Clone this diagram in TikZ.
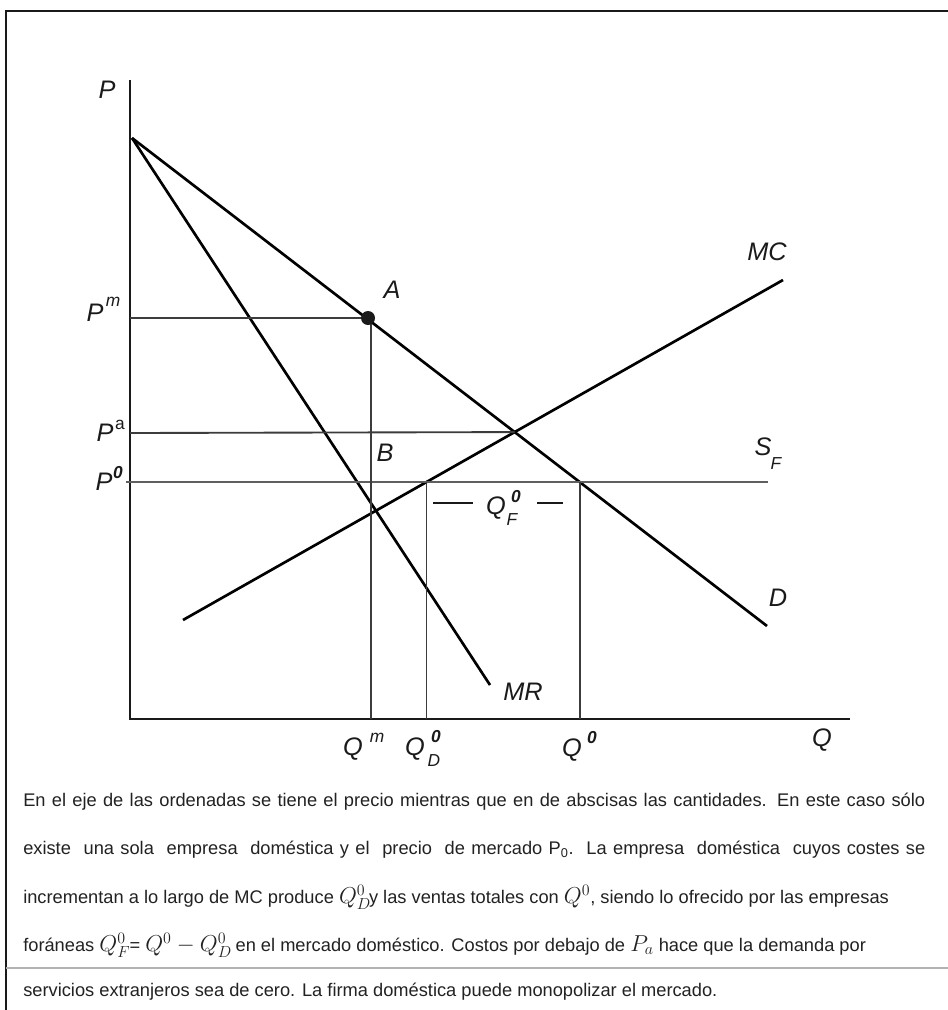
\documentclass[tikz,border=0pt]{standalone}
\usepackage{fontspec}
\setmainfont{Liberation Sans}
\newfontfamily\bodyfont{Liberation Sans}
\definecolor{ink}{HTML}{1A1A1A}
\definecolor{txt}{HTML}{222222}
\newcommand\mq[1]{{\fontsize{16.5}{17}\selectfont$#1$}}
\begin{document}
\begin{tikzpicture}[x=0.75pt,y=-0.75pt,
  frame/.style={line width=1.6pt,draw=ink},
  axis/.style={line width=2pt,draw=ink},
  curve/.style={line width=2pt,draw=black},
  guide/.style={line width=1.4pt,draw=ink!85},
  thinguide/.style={line width=1.1pt,draw=ink!70},
  lbl/.style={inner sep=0pt,font=\fontsize{19}{22}\selectfont\itshape,text=ink},
  sup/.style={inner sep=0pt,font=\fontsize{13}{15}\selectfont\itshape,text=ink},
  supb/.style={inner sep=0pt,font=\fontsize{13}{15}\selectfont\bfseries\itshape,text=ink},
  para/.style={inner sep=0pt,anchor=west,font=\bodyfont\fontsize{13.7}{16}\selectfont,text=txt},
  dot/.style={circle,fill=ink,inner sep=0pt,minimum size=10.5pt}]
\useasboundingbox (0,0) rectangle (948,1010);
\fill[white] (0,0) rectangle (948,1010);
% frame
\coordinate (fr1) at (948,11);
\coordinate (fr2) at (6,11);
\coordinate (fr3) at (6,1010);
\draw[frame] (fr1) -- (fr2) -- (fr3);
\coordinate (sep1) at (6,968);
\coordinate (sep2) at (948,968);
\draw[line width=0.9pt,draw=black!30] (sep1) -- (sep2);
% axes
\coordinate (Ytop) at (130,80);
\coordinate (O) at (130,719);
\coordinate (Xend) at (850,719);
\draw[axis] (Ytop) -- (O) -- (Xend);
% curves
\coordinate (T) at (132,138);
\coordinate (Dend) at (767,626);
\coordinate (MRend) at (490,685);
\coordinate (MCs) at (183,620);
\coordinate (MCe) at (783,280);
\draw[curve] (T) -- (Dend);
\draw[curve] (T) -- (MRend);
\draw[curve] (MCs) -- (MCe);
% guide lines
\coordinate (E) at (intersection of T--Dend and MCs--MCe);
\coordinate (PaL) at (130,433);
\draw[guide] (PaL) -- (E);
\coordinate (P0L) at (126,482);
\coordinate (P0R) at (768,482);
\draw[thinguide] (P0L) -- (P0R);
\coordinate (QDt) at (intersection of MCs--MCe and P0L--P0R);
\coordinate (Q0t) at (intersection of T--Dend and P0L--P0R);
\coordinate (QDb) at (QDt |- O);
\coordinate (Q0b) at (Q0t |- O);
\draw[guide] (QDt) -- (QDb);
\draw[guide] (Q0t) -- (Q0b);
\coordinate (Am) at (368,318);
\coordinate (PmL) at (130,318);
\coordinate (Qmb) at (371,719);
\coordinate (Qmt) at (371,318);
\draw[guide] (PmL) -- (Am);
\draw[guide] (Qmt) -- (Qmb);
\node[dot] (A) at (Am) {};
% labels
\node[lbl] (lP) at (107,90) {P};
\node[lbl] (lPm) at (95,313) {P};
\node[sup] (lPmS) at (113,302) {m};
\node[lbl] (lPa) at (105,433) {P};
\node[sup] (lPaS) at (120,425) {\upshape a};
\node[lbl] (lP0) at (104,482) {P};
\node[supb] (lP0S) at (118,473) {0};
\node[lbl] (lA) at (392,290) {A};
\node[lbl] (lB) at (385,453) {B};
\node[lbl] (lMC) at (767,252) {MC};
\node[lbl] (lS) at (763,447) {S};
\node[sup] (lSF) at (776,464) {F};
\node[lbl] (lD) at (778,598) {D};
\node[lbl] (lMR) at (523,692) {MR};
\node[lbl] (lQm) at (353,749) {Q};
\node[sup] (lQmS) at (377,738) {m};
\node[lbl] (lQD) at (415,749) {Q};
\node[supb] (lQDS) at (436,737) {0};
\node[sup] (lQDD) at (434,761) {D};
\node[lbl] (lQ0) at (572,750) {Q};
\node[supb] (lQ0S) at (592,738) {0};
\node[lbl] (lQ) at (822,740) {Q};
\node[lbl] (lQF) at (496,508) {Q};
\node[supb] (lQFS) at (516,497) {0};
\node[sup] (lQFF) at (512,520) {F};
\coordinate (d1a) at (433,503);
\coordinate (d1b) at (473,503);
\coordinate (d2a) at (537,503);
\coordinate (d2b) at (563,503);
\draw[line width=1.1pt,draw=ink] (d1a) -- (d1b);
\draw[line width=1.1pt,draw=ink] (d2a) -- (d2b);
% paragraph
\node[para] (t1) at (23,802) {\hbox to 676.5pt{En el eje de las ordenadas se tiene el precio mientras que en de abscisas las cantidades. En este caso sólo}};
\node[para] (t2) at (23,850) {\hbox to 676.5pt{existe\ \ una sola\ \ empresa\ \ doméstica y el\ \ precio\ \ de mercado P\textsubscript{0}.\ \ La empresa\ \ doméstica\ \ cuyos costes se}};
\node[para] (t3) at (23,897) {incrementan a lo largo de MC produce \mq{Q^0_D}\kern-1.5pt y las ventas totales con \mq{Q^0}, siendo lo ofrecido por las empresas};
\node[para] (t4) at (23,945) {foráneas \mq{Q^0_F}\kern-0.5pt= \mq{Q^0 - Q^0_D}\kern-1pt\ en el mercado doméstico. Costos por debajo de \mq{P_a} hace que la demanda por};
\node[para] (t5) at (23,992) {servicios extranjeros sea de cero. La firma doméstica puede monopolizar el mercado.};
\end{tikzpicture}
\end{document}
